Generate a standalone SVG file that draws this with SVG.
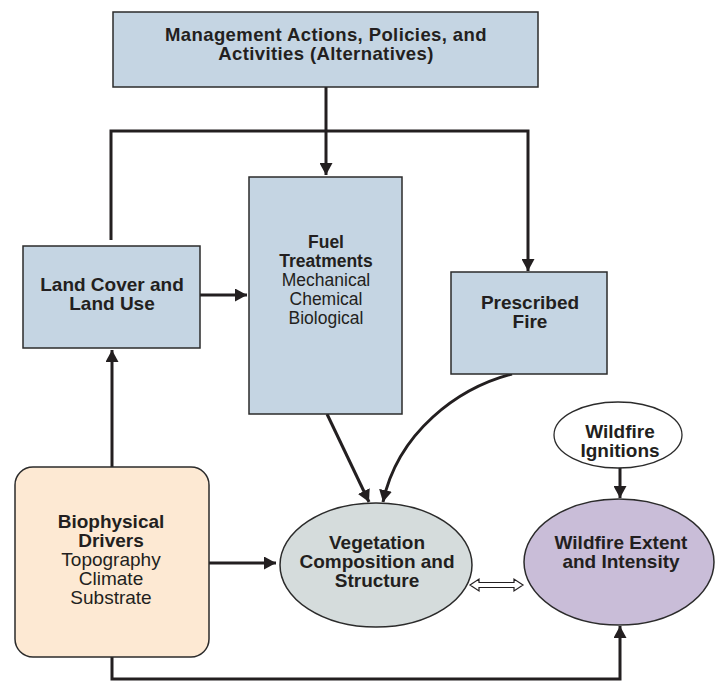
<svg xmlns="http://www.w3.org/2000/svg" width="718" height="681" viewBox="0 0 718 681">
  <style>
    .box { fill: #c5d5e3; stroke: #2b2b2b; stroke-width: 1.5; }
    .bio { fill: #fde9d3; stroke: #2b2b2b; stroke-width: 1.5; }
    .veg { fill: #d5dcdc; stroke: #2b2b2b; stroke-width: 1.5; }
    .fire { fill: #c9bdd8; stroke: #2b2b2b; stroke-width: 1.5; }
    .ign { fill: #ffffff; stroke: #2b2b2b; stroke-width: 1.3; }
    text { font-family: "Liberation Sans", Arial, Helvetica, sans-serif; fill: #231f20; text-anchor: middle; font-size: 19px; }
    .b { font-weight: bold; }
    .title { font-size: 18.5px; letter-spacing: 0.4px; }
    .fuel { font-size: 17.5px; }
    .link { fill: none; stroke: #231f20; stroke-width: 3; }
  </style>
  <defs>
    <marker id="arrow" markerUnits="userSpaceOnUse" markerWidth="13" markerHeight="13" refX="12" refY="6.5" orient="auto">
      <path d="M0,0 L12,6.5 L0,13 z" fill="#231f20"/>
    </marker>
  </defs>

  <!-- connectors -->
  <g id="connectors">
    <path class="link" d="M326,87 L326,175" marker-end="url(#arrow)"/>
    <path class="link" d="M111,240 L111,131 L528,131 L528,271" marker-end="url(#arrow)"/>
    <path class="link" d="M200,295 L247,295" marker-end="url(#arrow)"/>
    <path class="link" d="M112,467 L112,350" marker-end="url(#arrow)"/>
    <path class="link" d="M209,563 L276,563" marker-end="url(#arrow)"/>
    <path class="link" d="M327,414 L369,502" marker-end="url(#arrow)"/>
    <path class="link" d="M512,374 C458,388 398,432 383,502" marker-end="url(#arrow)"/>
    <path class="link" d="M620,468 L620,498" marker-end="url(#arrow)"/>
    <path class="link" d="M112,657 L112,679 L620,679 L620,626" marker-end="url(#arrow)"/>
    <!-- two-way hollow arrow between vegetation and wildfire -->
    <polygon points="470,585 479,579 479,582.5 514,582.5 514,579 523,585 514,591 514,587.5 479,587.5 479,591" fill="#ffffff" stroke="#231f20" stroke-width="1.2"/>
  </g>

  <g id="management">
    <rect class="box" x="113" y="12" width="425" height="75"/>
    <text class="b title" x="326" y="41">Management Actions, Policies, and</text>
    <text class="b title" x="326" y="60">Activities (Alternatives)</text>
  </g>

  <g id="land-cover">
    <rect class="box" x="23" y="246" width="177" height="102"/>
    <text class="b" x="112" y="291">Land Cover and</text>
    <text class="b" x="112" y="310">Land Use</text>
  </g>

  <g id="fuel-treatments">
    <rect class="box" x="249" y="177" width="153" height="237"/>
    <text class="b fuel" x="326" y="248">Fuel</text>
    <text class="b fuel" x="326" y="267">Treatments</text>
    <text class="fuel" x="326" y="286">Mechanical</text>
    <text class="fuel" x="326" y="305">Chemical</text>
    <text class="fuel" x="326" y="324">Biological</text>
  </g>

  <g id="prescribed-fire">
    <rect class="box" x="451" y="272" width="156" height="102"/>
    <text class="b" x="530" y="309">Prescribed</text>
    <text class="b" x="530" y="328">Fire</text>
  </g>

  <g id="biophysical">
    <rect class="bio" x="15" y="467" width="194" height="190" rx="18" ry="18"/>
    <text class="b" x="111" y="528">Biophysical</text>
    <text class="b" x="111" y="547">Drivers</text>
    <text x="111" y="566">Topography</text>
    <text x="111" y="585">Climate</text>
    <text x="111" y="604">Substrate</text>
  </g>

  <g id="vegetation">
    <ellipse class="veg" cx="376" cy="565" rx="96" ry="62"/>
    <text class="b" x="377" y="549">Vegetation</text>
    <text class="b" x="377" y="568">Composition and</text>
    <text class="b" x="377" y="587">Structure</text>
  </g>

  <g id="ignitions">
    <ellipse class="ign" cx="618" cy="435" rx="64" ry="33"/>
    <text class="b" x="620" y="438">Wildfire</text>
    <text class="b" x="620" y="457">Ignitions</text>
  </g>

  <g id="wildfire-extent">
    <ellipse class="fire" cx="619" cy="562" rx="95" ry="63"/>
    <text class="b" x="621" y="549">Wildfire Extent</text>
    <text class="b" x="621" y="568">and Intensity</text>
  </g>
</svg>
